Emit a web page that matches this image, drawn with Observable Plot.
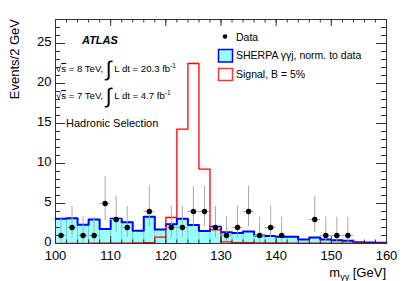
<!DOCTYPE html>
<html><head><meta charset="utf-8">
<script src="https://cdn.jsdelivr.net/npm/d3@7"></script>
<script src="https://cdn.jsdelivr.net/npm/@observablehq/plot@0.6"></script>
<style>body{margin:0;background:#fff} svg{display:block}</style>
</head><body><div id="chart"></div>
<script>
// ---- data (30 bins of 2 GeV from 100 to 160) ----
const binLow = 100, binWidth = 2;
const sherpa = [3.1, 3.15, 2.35, 3.0, 1.8, 3.1, 2.65, 1.6, 3.35, 1.75,
                2.4, 3.1, 2.3, 1.55, 2.1, 1.4, 1.3, 1.5, 1.0, 0.95,
                0.85, 0.85, 0.5, 0.75, 0.5, 0.4, 0.33, 0.15, 0.12, 0.1];
const signal = [0.02, 0.02, 0.02, 0.03, 0.03, 0.04, 0.05, 0.06, 0.12, 0.8,
                3.25, 14.3, 22.5, 9.3, 1.7, 0.2, 0.12, 0.1, 0.08, 0.07,
                0.06, 0.05, 0.05, 0.04, 0.04, 0.03, 0.03, 0.03, 0.02, 0.02];
const dataCounts = [1, 2, 1, 1, 5, 3, 2, 0, 4, 0,
                    2, 2, 4, 4, 2, 1, 2, 4, 1, 2,
                    1, 0, 0, 3, 1, 1, 1, 0, 0, 0];
// 68% Poisson (Garwood) interval bounds for n = 0..5
const poissonLo = [0, 0.173, 0.708, 1.367, 2.086, 2.840];
const poissonHi = [1.841, 3.300, 4.638, 5.918, 7.163, 8.382];
const xTickLabels = [100, 110, 120, 130, 140, 150, 160];
const yTickLabels = [0, 5, 10, 15, 20, 25];
const yMinorTicks = d3.range(0, 29, 1);

// ---- derived tables ----
const steps = vals => vals.flatMap((v, i) => [
  {x: binLow + i * binWidth, y: v}, {x: binLow + (i + 1) * binWidth, y: v}]);
const bgSteps = steps(sherpa);
const sigSteps = steps(signal);
const edges = d3.range(sherpa.length + 1).map(i => binLow + i * binWidth);
const separators = edges.slice(1, -1).map((e, k) => ({x: e, h: Math.min(sherpa[k], sherpa[k + 1])}));
const dataPts = dataCounts.map((n, i) => ({
  x: binLow + (i + 0.5) * binWidth, x0: binLow + i * binWidth, x1: binLow + (i + 1) * binWidth,
  n, lo: poissonLo[n], hi: poissonHi[n]})).filter(d => d.n > 0);

const W = 415, H = 281, mL = 55, mR = 29, mT = 19, mB = 38;
const pw = W - mL - mR, ph = H - mT - mB;
const frameCol = "#333";

const svg = Plot.plot({
  width: W, height: H, marginLeft: mL, marginRight: mR, marginTop: mT, marginBottom: mB,
  x: {domain: [100, 160]},
  y: {domain: [0, 28]},
  style: {fontFamily: "'Liberation Sans', Arial, sans-serif", fontSize: "13px", background: "white", color: "black", overflow: "visible"},
  marks: [
    Plot.areaY(bgSteps, {x: "x", y1: 0, y2: "y", fill: "#99ffff"}),
    Plot.ruleX(separators, {x: "x", y1: 0, y2: "h", stroke: "#000", strokeOpacity: 0.3, strokeWidth: 0.7}),
    Plot.line(bgSteps, {x: "x", y: "y", stroke: "#0000ff", strokeWidth: 2}),
    Plot.line(sigSteps, {x: "x", y: "y", stroke: "#ff0000", strokeWidth: 1.3}),
    Plot.ruleY(dataPts, {y: "n", x1: "x0", x2: "x1", stroke: "#aaa", strokeWidth: 1}),
    Plot.ruleX(dataPts, {x: "x", y1: "lo", y2: "hi", stroke: "#aaa", strokeWidth: 1}),
    Plot.dot(dataPts, {x: "x", y: "n", r: 2.7, fill: "black", stroke: "none"}),
    Plot.frame({stroke: frameCol}),
    // inward ticks, bottom & top
    Plot.tickX(xTickLabels, {x: d => d, insetTop: ph - 7, stroke: frameCol}),
    Plot.tickX(edges, {x: d => d, insetTop: ph - 3.5, stroke: frameCol}),
    Plot.tickX(xTickLabels, {x: d => d, insetBottom: ph - 7, stroke: frameCol}),
    Plot.tickX(edges, {x: d => d, insetBottom: ph - 3.5, stroke: frameCol}),
    // inward ticks, left & right
    Plot.tickY(yTickLabels, {y: d => d, insetRight: pw - 10, stroke: frameCol}),
    Plot.tickY(yMinorTicks, {y: d => d, insetRight: pw - 5, stroke: frameCol}),
    Plot.tickY(yTickLabels, {y: d => d, insetLeft: pw - 10, stroke: frameCol}),
    Plot.tickY(yMinorTicks, {y: d => d, insetLeft: pw - 5, stroke: frameCol}),
    Plot.axisX(xTickLabels, {tickSize: 0, tickPadding: 7, fontSize: 13, label: null}),
    Plot.axisY(yTickLabels, {tickSize: 0, tickPadding: 4, dy: -2, fontSize: 13, label: null})
  ]
});

const s = d3.select(svg);
const ff = "'Liberation Sans', Arial, sans-serif";
// axis titles
s.append("text").attr("transform", "translate(19,19) rotate(-90)").attr("text-anchor", "end")
  .attr("font-family", ff).attr("font-size", 13).attr("fill", "black").text("Events/2 GeV");
const xl = s.append("text").attr("x", 386).attr("y", 277).attr("text-anchor", "end")
  .attr("font-family", ff).attr("font-size", 13).attr("fill", "black");
xl.append("tspan").text("m");
xl.append("tspan").attr("font-size", 9).attr("dy", 3).text("γγ");
xl.append("tspan").attr("dy", -3).text(" [GeV]");

// ATLAS label
s.append("text").attr("x", 82).attr("y", 44).attr("text-anchor", "start").attr("font-family", ff).attr("font-size", 11)
  .attr("font-weight", "bold").attr("font-style", "italic").attr("fill", "black").text("ATLAS");

function lumiLine(y, e, lumi) {
  const t = s.append("text").attr("x", 56).attr("y", y).attr("text-anchor", "start")
    .attr("font-family", ff).attr("font-size", 9.6).attr("fill", "black");
  t.append("tspan").text("√");
  t.append("tspan").style("text-decoration", "overline").text("s");
  t.append("tspan").text(` = ${e} TeV, `);
  t.append("tspan").attr("font-size", 21).attr("dy", 4).text("∫");
  t.append("tspan").attr("dy", -4).text(` L dt = ${lumi} fb`);
  t.append("tspan").attr("font-size", 6.5).attr("dy", -4).text("-1");
}
lumiLine(72, 8, "20.3");
lumiLine(99, 7, "4.7");

s.append("text").attr("x", 66).attr("y", 127).attr("text-anchor", "start").attr("font-family", ff).attr("font-size", 11)
  .attr("fill", "black").text("Hadronic Selection");

// legend
const lg = s.append("g").attr("font-family", ff).attr("font-size", 10.5).attr("fill", "black").attr("text-anchor", "start");
lg.append("circle").attr("cx", 225).attr("cy", 36.5).attr("r", 2.3).attr("fill", "black");
lg.append("text").attr("x", 236).attr("y", 40.5).text("Data");
lg.append("rect").attr("x", 218.5).attr("y", 49.5).attr("width", 14).attr("height", 12.5)
  .attr("fill", "#99ffff").attr("stroke", "#0000ff").attr("stroke-width", 1.5);
lg.append("text").attr("x", 236).attr("y", 59).text("SHERPA γγj, norm. to data");
lg.append("rect").attr("x", 218.5).attr("y", 68.5).attr("width", 14).attr("height", 12)
  .attr("fill", "white").attr("stroke", "#ff3333").attr("stroke-width", 1.5);
lg.append("text").attr("x", 236).attr("y", 78).text("Signal, B = 5%");

document.getElementById("chart").append(svg);
</script>
</body></html>
